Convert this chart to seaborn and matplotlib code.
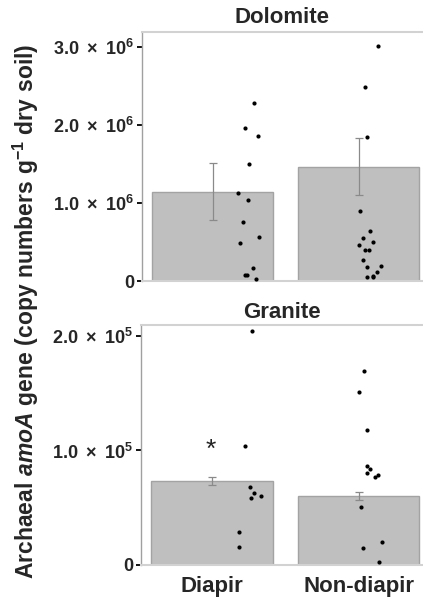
import numpy as np
import pandas as pd
import matplotlib
matplotlib.use("Agg")
import matplotlib.pyplot as plt
import seaborn as sns

# ---------------- data ----------------
categories = ["Diapir", "Non-diapir"]

dol_means = [1.145e6, 1.465e6]
dol_se = [0.365e6, 0.368e6]
gra_means = [0.732e5, 0.604e5]
gra_se = [0.037e5, 0.035e5]

dol_diapir = [2.286e6, 1.965e6, 1.859e6, 1.496e6, 1.124e6, 1.038e6, 0.753e6,
              0.564e6, 0.491e6, 0.167e6, 0.081e6, 0.073e6, 0.022e6]
dol_nondiapir = [3.013e6, 2.491e6, 1.850e6, 0.894e6, 0.641e6, 0.555e6, 0.504e6,
                 0.462e6, 0.394e6, 0.397e6, 0.273e6, 0.179e6, 0.188e6, 0.119e6,
                 0.055e6, 0.064e6, 0.051e6]
gra_diapir = [2.046e5, 1.042e5, 0.677e5, 0.625e5, 0.581e5, 0.601e5, 0.288e5, 0.156e5]
gra_nondiapir = [1.699e5, 1.516e5, 1.177e5, 0.867e5, 0.838e5, 0.798e5, 0.785e5,
                 0.768e5, 0.504e5, 0.196e5, 0.145e5, 0.026e5]

# horizontal jitter of the individual points (category units)
dol_diapir_jit = [0.28, 0.22, 0.31, 0.245, 0.175, 0.24, 0.205, 0.315, 0.185,
                  0.275, 0.22, 0.235, 0.295]
dol_nondiapir_jit = [0.13, 0.04, 0.055, 0.005, 0.08, 0.03, 0.095, 0.0, 0.045,
                     0.07, 0.03, 0.055, 0.155, 0.125, 0.055, 0.095, 0.10]
gra_diapir_jit = [0.27, 0.225, 0.255, 0.285, 0.265, 0.33, 0.18, 0.185]
gra_nondiapir_jit = [0.035, 0.005, 0.055, 0.055, 0.08, 0.06, 0.13, 0.11, 0.015,
                     0.16, 0.03, 0.14]

sig_value = 1.057e5  # asterisk above Granite Diapir

dol_ticks = [0, 1e6, 2e6, 3e6]
dol_ticklabels = ["0", r"$\mathbf{1.0\ \times\ 10^{6}}$", r"$\mathbf{2.0\ \times\ 10^{6}}$",
                  r"$\mathbf{3.0\ \times\ 10^{6}}$"]
gra_ticks = [0, 1e5, 2e5]
gra_ticklabels = ["0", r"$\mathbf{1.0\ \times\ 10^{5}}$", r"$\mathbf{2.0\ \times\ 10^{5}}$"]

ylabel = (r"$\mathbf{Archaeal\ }\mathit{amoA}"
          r"\mathbf{\ gene\ (copy\ numbers\ g^{-1}\ dry\ soil)}$")

# ---------------- style ----------------
sns.set_style("white")
plt.rcParams["font.family"] = ["Liberation Sans", "DejaVu Sans"]
plt.rcParams["font.weight"] = "bold"
plt.rcParams["mathtext.fontset"] = "custom"
plt.rcParams["mathtext.rm"] = "Liberation Sans:bold"
plt.rcParams["mathtext.bf"] = "Liberation Sans:bold"
plt.rcParams["mathtext.it"] = "Liberation Sans:bold:italic"
plt.rcParams["mathtext.sf"] = "Liberation Sans:bold"

BAR = "#bfbfbf"
BAR_EDGE = "#a3a3a3"
ERR = "#8a8a8a"
LIGHT = "#d2d2d2"
LEFT = "#a0a0a0"

W, H = 423, 601
fig = plt.figure(figsize=(W / 100, H / 100), dpi=100)

ax1 = fig.add_axes([141.5 / W, 1 - 281 / H, 1 - 141.5 / W, (281 - 32) / H])
ax2 = fig.add_axes([140.5 / W, 1 - 564.5 / H, 1 - 140.5 / W, (564.5 - 325) / H])


def panel(ax, means, se, pts_a, pts_b, jit_a, jit_b, ylim, ticks, ticklabels, title, tpad):
    df = pd.DataFrame({"group": categories, "value": means})
    sns.barplot(data=df, x="group", y="value", ax=ax, color=BAR, edgecolor=BAR_EDGE,
                linewidth=1.0, width=0.83, errorbar=None, saturation=1)
    ax.errorbar(range(len(categories)), means, yerr=se, fmt="none", ecolor=ERR,
                elinewidth=0.9, capsize=3, capthick=0.9, zorder=3)
    for i, (pts, jit) in enumerate([(pts_a, jit_a), (pts_b, jit_b)]):
        sns.scatterplot(x=np.array(jit) + i, y=pts, ax=ax, color="black", s=9,
                        linewidth=0, zorder=4, legend=False)
    ax.set_xlim(-0.49, 1.44)
    ax.set_ylim(*ylim)
    ax.set_yticks(ticks)
    ax.set_yticklabels(ticklabels, fontsize=13, fontweight="bold")
    ax.set_xlabel("")
    ax.set_ylabel("")
    ax.tick_params(axis="y", direction="out", length=3.5, width=1.3, color="black",
                   pad=1.8, left=True)
    ax.tick_params(axis="x", length=0, pad=8)
    for s in ["top", "bottom"]:
        ax.spines[s].set_color(LIGHT)
        ax.spines[s].set_linewidth(1.5)
    ax.spines["left"].set_color(LEFT)
    ax.spines["left"].set_linewidth(1.0)
    ax.spines["right"].set_visible(False)
    ax.set_title(title, fontsize=16, fontweight="bold", pad=tpad)


panel(ax1, dol_means, dol_se, dol_diapir, dol_nondiapir, dol_diapir_jit,
      dol_nondiapir_jit, (0, 3.19e6), dol_ticks, dol_ticklabels, "Dolomite", 6.5)
ax1.set_xticklabels([])

panel(ax2, gra_means, gra_se, gra_diapir, gra_nondiapir, gra_diapir_jit,
      gra_nondiapir_jit, (0, 2.10e5), gra_ticks, gra_ticklabels, "Granite", 4.8)
ax2.set_xticks(range(len(categories)))
ax2.set_xticklabels(categories, fontsize=16, fontweight="bold")

ax2.annotate("*", xy=(-0.01, sig_value), xytext=(0, -4.5), textcoords="offset points",
             ha="center", va="center", fontsize=19, fontweight="normal",
             color="#222222")

fig.text(0.062, 0.482, ylabel, rotation=90, ha="center", va="center",
         fontsize=16.5, fontweight="bold")

fig.savefig("out.png", dpi=100)
